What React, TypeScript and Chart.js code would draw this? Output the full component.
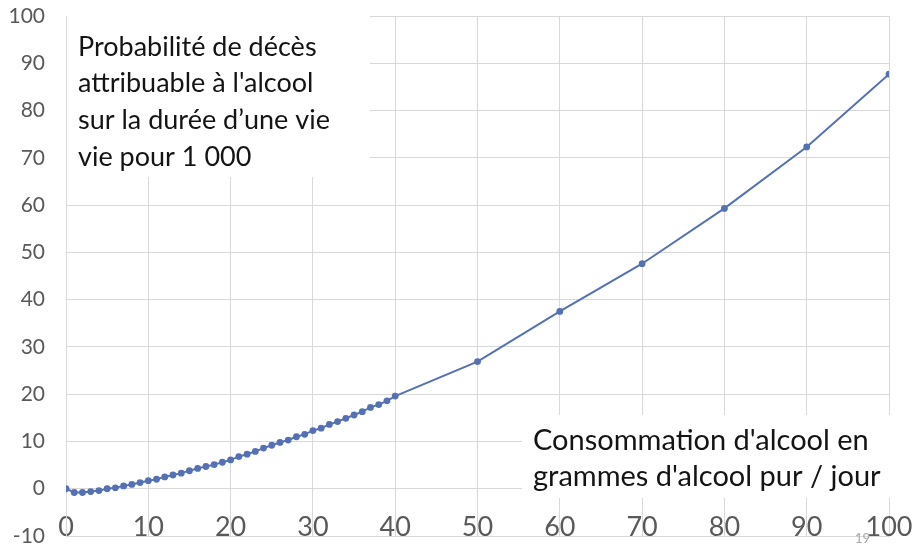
import React, { useEffect, useRef } from "react";
import { Chart, registerables } from "chart.js";

Chart.register(...registerables);

// Consommation (g d'alcool pur / jour)
const doseLow = [
  0, 1, 2, 3, 4, 5, 6, 7, 8, 9, 10, 11, 12, 13, 14, 15, 16, 17, 18, 19, 20,
  21, 22, 23, 24, 25, 26, 27, 28, 29, 30, 31, 32, 33, 34, 35, 36, 37, 38, 39, 40,
];
// Probabilité de décès pour 1 000
const riskLow = [
  0, -0.8, -0.8, -0.6, -0.4, 0.0, 0.2, 0.6, 0.9, 1.3, 1.7, 2.0, 2.5, 2.9, 3.3,
  3.8, 4.3, 4.7, 5.1, 5.6, 6.1, 6.8, 7.3, 7.9, 8.6, 9.2, 9.8, 10.3, 11.0, 11.5,
  12.3, 12.8, 13.6, 14.2, 14.9, 15.6, 16.3, 17.2, 17.8, 18.6, 19.6,
];
const doseHigh = [50, 60, 70, 80, 90, 100];
const riskHigh = [26.9, 37.5, 47.6, 59.3, 72.3, 87.7];

const xMin = 0;
const xMax = 100;
const xStep = 10;
const yMin = -10;
const yMax = 100;
const yStep = 10;

const yTitleLines = [
  "Probabilité de décès",
  "attribuable à l'alcool",
  "sur la durée d’une vie",
  "vie pour 1 000",
];
const xTitleLines = ["Consommation d'alcool en", "grammes d'alcool pur / jour"];
const pageNumber = "19";

const BLUE = "#5571b3";
const GRID = "#d9d9d9";
const TICK = "#595959";

const noScalePadding = (s: any) => {
  s.paddingTop = 0;
  s.paddingBottom = 0;
  s.paddingLeft = 0;
  s.paddingRight = 0;
};

const overlay = {
  id: "overlay",
  beforeDatasetsDraw(chart: any) {
    const ctx = chart.ctx;
    ctx.save();
    ctx.fillStyle = "#ffffff";
    ctx.fillRect(67, 12, 303, 165);
    ctx.fillRect(522, 415, 390, 83);
    ctx.restore();
  },
  afterDraw(chart: any) {
    const ctx = chart.ctx;
    ctx.save();
    ctx.fillStyle = "#141414";
    ctx.textAlign = "left";
    ctx.textBaseline = "alphabetic";
    ctx.font = "27px Lato";
    yTitleLines.forEach((t, i) => ctx.fillText(t, 78, 55.5 + i * 36.7));
    ctx.font = "29px Lato";
    xTitleLines.forEach((t, i) => ctx.fillText(t, 533, 450 + i * 36));
    ctx.fillStyle = "#a6a6a6";
    ctx.font = "13px Lato";
    ctx.fillText(pageNumber, 855, 543);
    ctx.restore();
  },
};

export default function App() {
  const ref = useRef<HTMLCanvasElement | null>(null);

  useEffect(() => {
    if (!ref.current) return;
    const points = [
      ...doseLow.map((x, i) => ({ x, y: riskLow[i] })),
      ...doseHigh.map((x, i) => ({ x, y: riskHigh[i] })),
    ];
    const chart = new Chart(ref.current, {
      type: "line",
      data: {
        datasets: [
          {
            data: points,
            borderColor: BLUE,
            backgroundColor: BLUE,
            borderWidth: 2,
            pointRadius: 3.4,
            pointBorderWidth: 0,
            pointBackgroundColor: BLUE,
            tension: 0,
          },
        ],
      },
      options: {
        responsive: false,
        animation: false,
        layout: { autoPadding: false, padding: { top: 16, right: 28, left: 0, bottom: 0 } },
        plugins: {
          legend: { display: false },
          tooltip: { enabled: false },
          title: { display: false },
        },
        scales: {
          x: {
            type: "linear",
            min: xMin,
            max: xMax,
            ticks: {
              stepSize: xStep,
              mirror: true,
              padding: -7,
              color: TICK,
              font: { family: "Lato", size: 27 },
              maxRotation: 0,
              autoSkip: false,
            },
            grid: { color: GRID, drawTicks: false, lineWidth: 1 },
            border: { color: GRID },
            afterFit(s: any) {
              s.height = 15;
              noScalePadding(s);
            },
          },
          y: {
            min: yMin,
            max: yMax,
            ticks: {
              stepSize: yStep,
              padding: 21,
              color: TICK,
              font: { family: "Lato", size: 21 },
            },
            grid: { color: GRID, drawTicks: false, lineWidth: 1 },
            border: { color: GRID },
            afterFit(s: any) {
              s.width = 66;
              noScalePadding(s);
            },
          },
        },
      },
      plugins: [overlay],
    });
    return () => chart.destroy();
  }, []);

  return (
    <div
      style={{
        position: "fixed",
        top: 0,
        left: 0,
        width: 917,
        height: 551,
        background: "#ffffff",
      }}
    >
      <canvas ref={ref} width={917} height={551} style={{ width: 917, height: 551 }} />
    </div>
  );
}
